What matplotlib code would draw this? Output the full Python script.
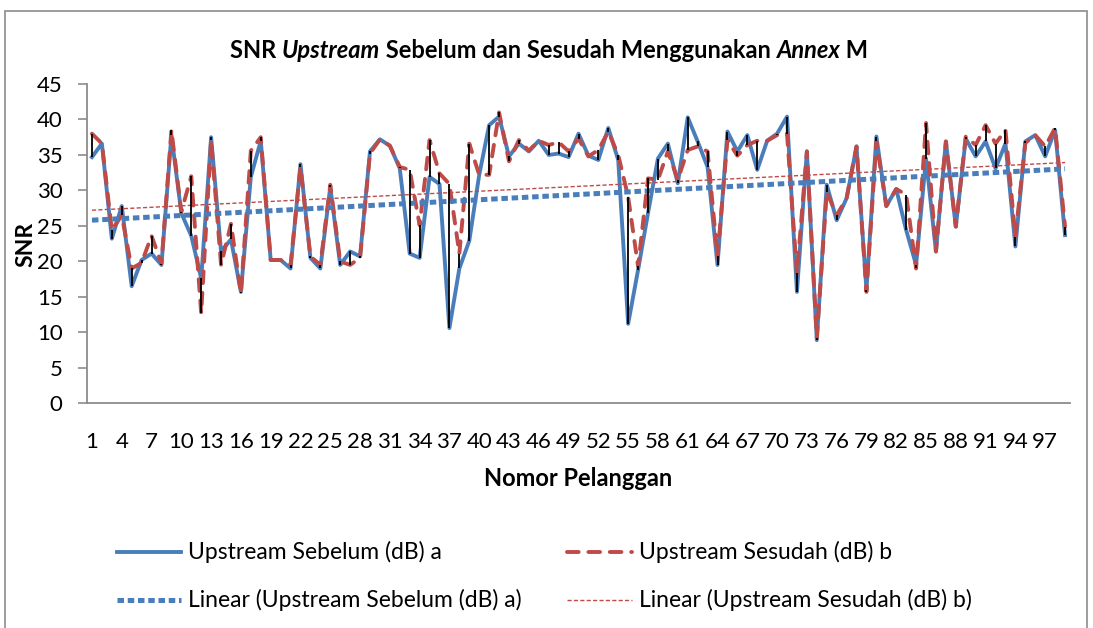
import matplotlib
matplotlib.use("Agg")
import matplotlib.pyplot as plt
import numpy as np
from matplotlib.lines import Line2D
from matplotlib.patches import Rectangle

# ---- data ----
customers = list(range(1, 100))
sebelum = [34.7, 36.6, 23.2, 27.8, 16.5, 20.2, 21.1, 19.5, 37.8, 26.8,
           23.6, 17.6, 37.5, 21.4, 23.1, 15.7, 31.9, 37.0, 20.2, 20.2,
           19.0, 33.7, 20.5, 19.0, 30.5, 19.5, 21.4, 20.7, 35.5, 37.2,
           36.3, 33.1, 21.1, 20.5, 31.9, 30.9, 10.6, 19.0, 22.9, 32.2,
           39.2, 40.4, 34.8, 36.6, 35.5, 37.0, 35.0, 35.2, 34.7, 38.0,
           34.9, 34.3, 38.8, 34.3, 11.2, 18.8, 26.8, 34.5, 36.6, 31.0,
           40.3, 36.9, 33.3, 19.5, 38.3, 35.5, 37.8, 32.9, 37.0, 38.0,
           40.4, 15.7, 35.5, 8.9, 30.8, 25.8, 28.9, 36.2, 16.0, 37.6,
           27.8, 30.2, 24.4, 19.5, 34.5, 21.4, 36.9, 24.9, 37.3, 34.8,
           36.9, 33.1, 36.6, 22.1, 36.9, 37.8, 34.8, 38.5, 23.7]
sesudah = [38.0, 36.6, 24.4, 26.5, 19.0, 19.8, 23.6, 19.7, 38.5, 27.0,
           32.0, 12.7, 37.1, 19.5, 25.3, 15.5, 35.6, 37.5, 20.2, 20.2,
           19.5, 33.3, 20.7, 19.5, 30.8, 20.0, 19.5, 20.5, 35.2, 37.2,
           36.3, 33.3, 32.9, 25.1, 37.1, 32.4, 30.9, 21.1, 36.6, 32.2,
           32.2, 41.0, 34.1, 37.1, 35.6, 37.0, 36.4, 36.8, 35.5, 37.3,
           34.8, 35.7, 38.3, 35.0, 29.1, 19.3, 31.7, 31.5, 35.5, 31.5,
           35.7, 36.2, 35.5, 20.7, 37.1, 34.9, 36.4, 37.0, 37.0, 37.8,
           38.0, 18.3, 35.5, 9.2, 29.8, 26.5, 28.9, 36.2, 15.7, 36.9,
           27.8, 30.2, 29.4, 19.0, 39.5, 21.4, 36.9, 24.9, 37.6, 36.4,
           39.2, 36.6, 38.5, 23.5, 36.7, 37.8, 36.2, 38.8, 24.9]
xtick_labels = [str(v) for v in range(1, 100, 3)]

title_parts = [("SNR ", "normal"), ("Upstream", "italic"),
               (" Sebelum dan Sesudah Menggunakan ", "normal"),
               ("Annex", "italic"), (" M", "normal")]

BLUE = "#4A7EBB"
RED = "#BE4B48"
FONT = "Lato"
plt.rcParams["font.family"] = [FONT, "DejaVu Sans"]
TICK_FS = 16
LEG_FS = 16.5

W, H = 1093, 628
fig = plt.figure(figsize=(W / 100, H / 100), dpi=100)
fig.patch.set_facecolor("white")
fig.add_artist(Rectangle((5 / W, -0.01), (1087 - 5) / W, 1 - 11 / H + 0.01,
                         transform=fig.transFigure, fill=False,
                         edgecolor="#8c8c8c", linewidth=1.2))

ax = fig.add_axes([87 / W, 1 - 403.3 / H, (1070 - 87) / W, (403.3 - 84) / H])

x = np.array(customers)
a = np.array(sebelum)
b = np.array(sesudah)

ax.plot(x, a, color=BLUE, lw=2.8, solid_joinstyle="round", zorder=3)
ax.plot(x, b, color=RED, lw=2.8, dashes=(3.0, 2.5), dash_capstyle="round", zorder=4)

ca = np.polyfit(x, a, 1)
cb = np.polyfit(x, b, 1)
ax.plot(x, np.polyval(ca, x), color=BLUE, lw=3.6, dashes=(1.3, 0.75),
        dash_capstyle="butt", zorder=5)
ax.plot(x, np.polyval(cb, x), color=RED, lw=1.0, dashes=(3, 1.6), zorder=5)

ax.vlines(x, np.minimum(a, b), np.maximum(a, b), color="black", lw=1.3, zorder=6)

ax.set_xlim(0.5, 99.5)
ax.set_ylim(0, 45)
ax.set_yticks(range(0, 46, 5))
ax.set_xticks(range(1, 100, 3))
ax.set_xticklabels(xtick_labels)
for s in ["top", "right"]:
    ax.spines[s].set_visible(False)
for s in ["left", "bottom"]:
    ax.spines[s].set_color("#8c8c8c")
    ax.spines[s].set_linewidth(1.3)
ax.tick_params(axis="y", direction="out", length=6.5, width=1.2, color="#8c8c8c",
               labelsize=TICK_FS, pad=11)
ax.tick_params(axis="x", length=0, labelsize=TICK_FS, pad=21)

fig.text(26 / W, 1 - 244 / H, "SNR", rotation=90, ha="center", va="center",
         fontsize=16.5, fontweight="bold")
fig.text((87 + 1070) / 2 / W, 1 - 478 / H, "Nomor Pelanggan", ha="center",
         va="center", fontsize=17, fontweight="bold")

# title with mixed italics
renderer = fig.canvas.get_renderer()
tmp = []
for txt, st in title_parts:
    t = fig.text(0, 0, txt, fontsize=17, fontweight="bold", style=st)
    tmp.append(t)
widths = [t.get_window_extent(renderer).width for t in tmp]
total = sum(widths)
xstart = 549 - total / 2
for t, w in zip(tmp, widths):
    t.set_position((xstart / W, 1 - 50 / H))
    t.set_va("center")
    xstart += w

# legend (manual)
def leg_item(x0, x1, y, label, **kw):
    fig.add_artist(Line2D([x0 / W, x1 / W], [1 - y / H, 1 - y / H],
                          transform=fig.transFigure, **kw))
    fig.text((x1 + 7) / W, 1 - y / H, label, fontsize=LEG_FS, va="center", ha="left")

leg_item(117, 181, 552, "Upstream Sebelum (dB) a", color=BLUE, lw=2.8)
leg_item(567, 632, 552, "Upstream Sesudah (dB) b", color=RED, lw=2.8,
         dashes=(3.0, 2.5), dash_capstyle="round")
leg_item(117, 181, 600, "Linear (Upstream Sebelum (dB) a)", color=BLUE, lw=3.6,
         dashes=(1.3, 0.75), dash_capstyle="butt")
leg_item(567, 632, 600, "Linear (Upstream Sesudah (dB) b)", color=RED, lw=1.0,
         dashes=(3, 1.6))

fig.savefig("out.png", dpi=100, facecolor="white")
